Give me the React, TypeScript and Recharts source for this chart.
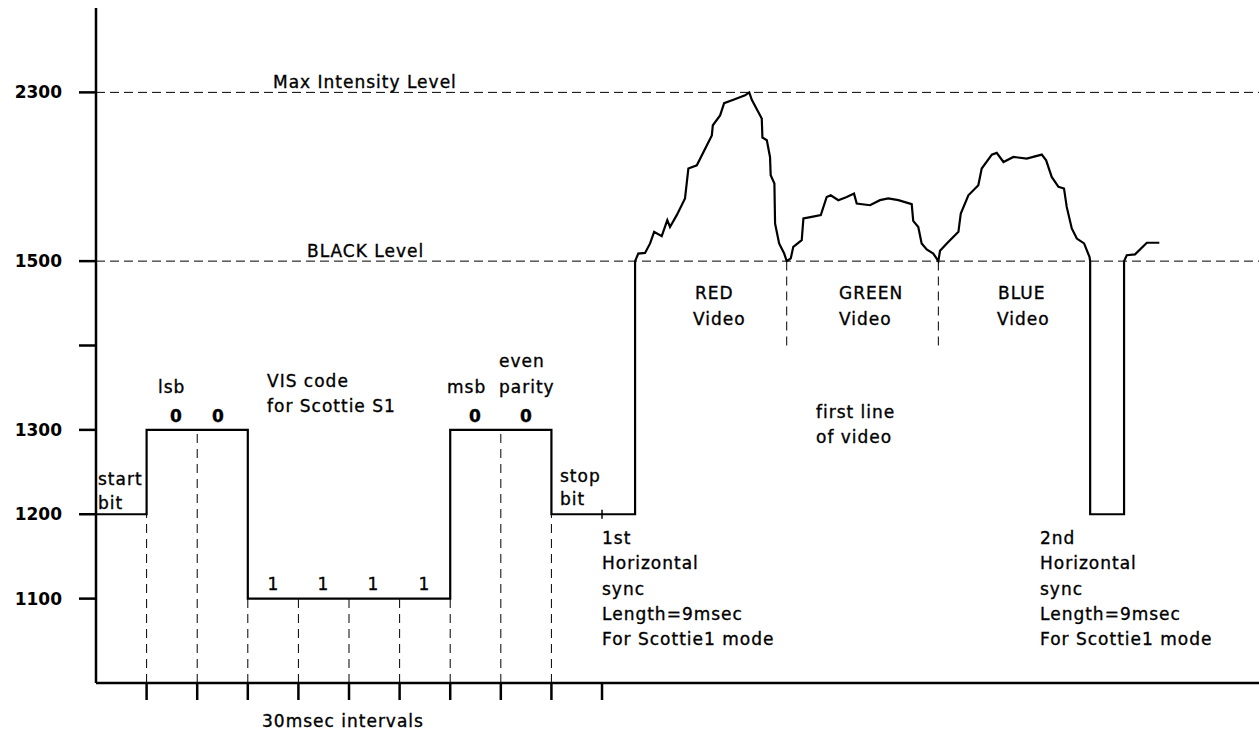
import { LineChart, Line, XAxis, YAxis, ReferenceLine, Customized } from "recharts"

// times in msec, levels in Hz

// VIS code for Scottie S1, one level per 30 msec slot
const bitSlotMs = 30
const visLevels = [1200, 1300, 1300, 1100, 1100, 1100, 1100, 1300, 1300, 1200]
const syncEndMs = 319.6
const syncLevel = 1200

// first line of video (red, green, blue scans, then 2nd sync)
const videoTimes = [
  319.6, 321.5, 325.5, 328.5, 330.9, 335.4, 338.7, 340.3, 344.3, 349.2,
  351.2, 356.2, 365.1, 365.7, 370.0, 372.4, 377.9, 384.8, 387.3, 388.8,
  392.1, 394.7, 395.1, 397.7, 399.6, 400.0, 402.2, 402.6, 405.0, 408.0,
  409.5, 411.9, 413.4, 418.4, 419.4, 424.3, 429.7, 433.2, 435.6, 440.1,
  445.1, 449.4, 451.0, 458.9, 464.8, 469.7, 475.7, 483.6, 484.5, 487.5,
  489.5, 492.5, 496.4, 499.4, 500.4, 504.4, 511.3, 512.7, 517.2, 523.1,
  525.1, 531.1, 534.0, 538.0, 543.9, 551.8, 560.7, 563.3, 566.6, 570.6,
  573.9, 575.5, 578.5, 581.5, 585.8, 589.0, 589.4, 589.4, 609.5, 609.5,
  611.1, 616.0, 623.0, 630.4,
]
const videoLevels = [
  1500, 1536, 1539, 1584, 1639, 1618, 1694, 1662, 1718, 1797,
  1939, 1954, 2096, 2144, 2191, 2249, 2265, 2286, 2300, 2265,
  2215, 2176, 2086, 2073, 1994, 1907, 1868, 1678, 1584, 1536,
  1500, 1513, 1568, 1599, 1702, 1710, 1718, 1804, 1812, 1789,
  1804, 1820, 1773, 1765, 1789, 1797, 1789, 1770, 1691, 1662,
  1584, 1555, 1536, 1500, 1549, 1584, 1639, 1726, 1812, 1860,
  1939, 2005, 2013, 1970, 1994, 1986, 2005, 1978, 1899, 1852,
  1844, 1757, 1655, 1607, 1584, 1520, 1500, 1200, 1200, 1500,
  1528, 1532, 1587, 1587,
]

const yTickLevels = [1100, 1200, 1300, 1400, 1500, 2300]
const yTickLabels = ["1100", "1200", "1300", "", "1500", "2300"]
const xTicks = [30, 60, 90, 120, 150, 180, 210, 240, 270, 300]
const colourSplits = [409.5, 499.4]
const xMax = 689.5

// the drawing is not linear: 100 Hz steps below black, 400 Hz steps above
const toAxis = (f: number) => (f <= 1500 ? (f - 1000) / 100 : 5 + (f - 1500) / 400)

const signal: { t: number; f: number }[] = []
visLevels.forEach((f, i) => {
  signal.push({ t: i * bitSlotMs, f })
  signal.push({ t: (i + 1) * bitSlotMs, f })
})
signal.push({ t: syncEndMs, f: syncLevel })
videoTimes.forEach((t, i) => signal.push({ t, f: videoLevels[i] }))

const font = "'DejaVu Sans', sans-serif"

const notes = [
  { x: 273, y: 88, s: "Max Intensity Level" },
  { x: 307, y: 257, s: "BLACK Level" },
  { x: 158, y: 393, s: "lsb" },
  { x: 98, y: 485, s: "start" },
  { x: 98, y: 509, s: "bit" },
  { x: 267, y: 387, s: "VIS code" },
  { x: 267, y: 412, s: "for Scottie S1" },
  { x: 447, y: 393, s: "msb" },
  { x: 499, y: 367, s: "even" },
  { x: 499, y: 393, s: "parity" },
  { x: 560, y: 482, s: "stop" },
  { x: 560, y: 505, s: "bit" },
  { x: 695, y: 299, s: "RED" },
  { x: 693, y: 325, s: "Video" },
  { x: 839, y: 299, s: "GREEN" },
  { x: 839, y: 325, s: "Video" },
  { x: 998, y: 299, s: "BLUE" },
  { x: 997, y: 325, s: "Video" },
  { x: 816, y: 418, s: "first line" },
  { x: 816, y: 443, s: "of video" },
  { x: 602, y: 544, s: "1st" },
  { x: 602, y: 569, s: "Horizontal" },
  { x: 602, y: 595, s: "sync" },
  { x: 602, y: 620, s: "Length=9msec" },
  { x: 602, y: 645, s: "For Scottie1 mode" },
  { x: 1040, y: 544, s: "2nd" },
  { x: 1040, y: 569, s: "Horizontal" },
  { x: 1040, y: 595, s: "sync" },
  { x: 1040, y: 620, s: "Length=9msec" },
  { x: 1040, y: 645, s: "For Scottie1 mode" },
  { x: 262, y: 727, s: "30msec intervals" },
]

const bitDigits = [
  { x: 176, y: 422, s: "0" },
  { x: 218, y: 422, s: "0" },
  { x: 273, y: 590, s: "1" },
  { x: 323, y: 590, s: "1" },
  { x: 373, y: 590, s: "1" },
  { x: 424, y: 590, s: "1" },
  { x: 475, y: 422, s: "0" },
  { x: 526, y: 422, s: "0" },
]

function Notes() {
  return (
    <g fontFamily={font} fontSize={17} fill="#000" stroke="#000" strokeWidth={0.35}>
      {notes.map((n, i) => (
        <text key={i} x={n.x} y={n.y} letterSpacing={1}>
          {n.s}
        </text>
      ))}
      {bitDigits.map((n, i) => (
        <text key={"d" + i} x={n.x} y={n.y} textAnchor="middle" fontWeight={n.s === "0" ? "bold" : "normal"}>
          {n.s}
        </text>
      ))}
    </g>
  )
}

export default function App() {
  return (
    <div style={{ position: "absolute", left: 0, top: 0, background: "#fff" }}>
      <LineChart width={1259} height={732} data={signal} margin={{ top: 8, right: 0, bottom: 0, left: 0 }}>
        <XAxis
          dataKey="t"
          type="number"
          domain={[0, xMax]}
          ticks={xTicks}
          tickFormatter={() => ""}
          tickSize={17}
          height={49}
          axisLine={{ stroke: "#000", strokeWidth: 2.5 }}
          tickLine={{ stroke: "#000", strokeWidth: 2.5 }}
        />
        <YAxis
          type="number"
          domain={[0, 8]}
          allowDataOverflow
          ticks={yTickLevels.map(toAxis)}
          tickFormatter={(v: number) => yTickLabels[yTickLevels.map(toAxis).indexOf(v)] ?? ""}
          tickSize={17}
          tickMargin={17}
          width={96}
          axisLine={{ stroke: "#000", strokeWidth: 2.5 }}
          tickLine={{ stroke: "#000", strokeWidth: 2.5 }}
          tick={{ fill: "#000", fontSize: 17, fontWeight: "bold", fontFamily: font }}
        />
        <ReferenceLine y={toAxis(2300)} stroke="#000" strokeDasharray="9 5" />
        <ReferenceLine y={toAxis(1500)} stroke="#000" strokeDasharray="9 5" />
        {xTicks.slice(0, 9).map((t, i) => (
          <ReferenceLine
            key={t}
            segment={[{ x: t, y: 0 }, { x: t, y: toAxis(Math.min(visLevels[i], visLevels[i + 1])) }]}
            stroke="#000"
            strokeDasharray="9 6"
          />
        ))}
        {colourSplits.map((t) => (
          <ReferenceLine
            key={t}
            segment={[{ x: t, y: toAxis(1400) }, { x: t, y: toAxis(1500) }]}
            stroke="#000"
            strokeDasharray="9 6"
          />
        ))}
        <ReferenceLine
          segment={[{ x: 300, y: toAxis(1194.7) }, { x: 300, y: toAxis(1205.3) }]}
          stroke="#000"
          strokeWidth={1.5}
        />
        <Line
          dataKey={(d: { f: number }) => toAxis(d.f)}
          type="linear"
          stroke="#000"
          strokeWidth={2.2}
          dot={false}
          isAnimationActive={false}
        />
        <Customized component={Notes} />
      </LineChart>
    </div>
  )
}
